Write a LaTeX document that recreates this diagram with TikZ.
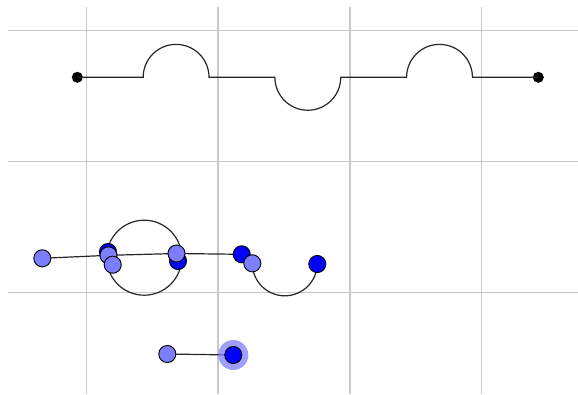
\documentclass[tikz,border=0pt]{standalone}
\usetikzlibrary{backgrounds}
\definecolor{lightpt}{RGB}{125,125,255}
\definecolor{darkpt}{RGB}{0,0,255}
\definecolor{gridgray}{RGB}{200,200,200}
\begin{document}
\begin{tikzpicture}[x=0.75pt,y=-0.75pt,
    gridln/.style={gridgray,line width=1.1pt},
    blackdot/.style={circle,fill=black,inner sep=0pt,minimum size=8.3pt},
    lpt/.style={circle,draw=black,fill=lightpt,line width=0.7pt,inner sep=0pt,minimum size=12.8pt},
    dpt/.style={lpt,fill=darkpt},
    curve/.style={black!85,line width=0.9pt}]
    \useasboundingbox (0,0) rectangle (578,394);
    \node[blackdot] (ts) at (77.3,77.3) {};
    \node[blackdot] (te) at (538.3,77.3) {};
    \draw[curve] (ts.center) -- ++(65.86,0) arc[start angle=180,end angle=360,radius=32.93]
        -- ++(65.86,0) arc[start angle=180,end angle=0,radius=32.93]
        -- ++(65.86,0) arc[start angle=180,end angle=360,radius=32.93] -- (te.center);
    \draw[curve] (144.2,257.7) circle[radius=37.5];
    \node[dpt] (D1) at (108,252) {};
    \node[dpt] (D2) at (178,261) {};
    \node[dpt] (D3) at (241.7,254.3) {};
    \node[dpt] (D4) at (317.3,264) {};
    \node[dpt] (D5) at (233.3,355) {};
    \node[lpt] (L1) at (42.3,258.3) {};
    \node[lpt] (L2) at (108.5,255.3) {};
    \node[lpt] (L3) at (112.7,264.7) {};
    \node[lpt] (L4) at (176.5,253.5) {};
    \node[lpt] (L5) at (252.3,263.3) {};
    \node[lpt] (L6) at (167.3,354) {};
    \begin{scope}[on background layer]
    \draw[gridln] (86.5,7) -- (86.5,394);
    \draw[gridln] (218.2,7) -- (218.2,394);
    \draw[gridln] (349.9,7) -- (349.9,394);
    \draw[gridln] (481.6,7) -- (481.6,394);
    \draw[gridln] (8,30.5) -- (578,30.5);
    \draw[gridln] (8,161.6) -- (578,161.6);
    \draw[gridln] (8,292.7) -- (578,292.7);
    \draw[curve] (L1.center) -- (L2.center) -- (L4.center) -- (D3.center);
    \draw[curve] (L5.center) arc[start angle=180,end angle=0,radius=32.5];
    \draw[curve] (L6.center) -- (D5.center);
    \fill[lightpt,opacity=0.75] (D5.center) circle[radius=15];
    \end{scope}
\end{tikzpicture}
\end{document}
